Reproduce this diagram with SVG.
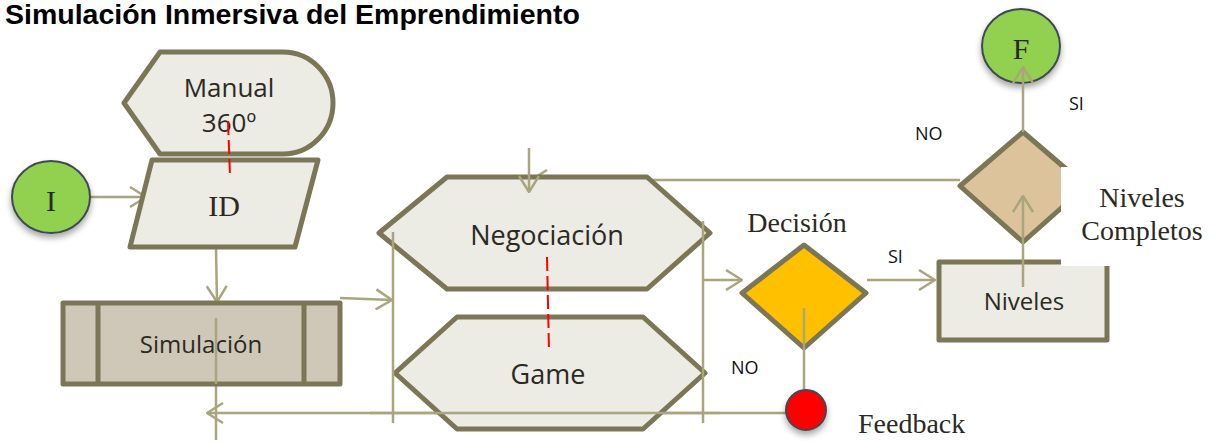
<svg xmlns="http://www.w3.org/2000/svg" width="1216" height="444" viewBox="0 0 1216 444">
<style>
.shape{stroke:#7a7656;stroke-width:5;stroke-linejoin:round}
.light{fill:#ecebe4}
.conn{fill:none;stroke:#a9a57d;stroke-width:2.5}
.sans{font-family:"Open Sans","Noto Sans",sans-serif;fill:#2b2a22}
.serif{font-family:"Liberation Serif","Times New Roman",serif;fill:#2b2a22}
.lbl{font-family:"Open Sans","Noto Sans",sans-serif;font-size:18px;fill:#111}
.red{fill:none;stroke:#ff0000;stroke-width:2;stroke-dasharray:14 5}
.mask{fill:#fff}
</style>
<defs>
<marker id="arr" viewBox="0 0 18 22" refX="17" refY="11" markerWidth="18" markerHeight="22" markerUnits="userSpaceOnUse" orient="auto">
<path d="M1,1 L17,11 L1,21" fill="none" stroke="#a9a57d" stroke-width="2.5"/>
</marker>
<filter id="sh" x="-30%" y="-30%" width="160%" height="170%">
<feDropShadow dx="0" dy="4" stdDeviation="3" flood-color="#000" flood-opacity="0.35"/>
</filter>
</defs>
<rect width="1216" height="444" fill="#fff"/>
<text x="5" y="24" font-family="Liberation Sans,Arial,sans-serif" font-weight="bold" font-size="28.5" fill="#000">Simulación Inmersiva del Emprendimiento</text>

<g id="connectors">
<line class="conn" x1="90" y1="197" x2="146" y2="197" marker-end="url(#arr)"/>
<line class="conn" x1="216" y1="248" x2="217" y2="302" marker-end="url(#arr)"/>
<line class="conn" x1="340" y1="298" x2="392" y2="300" marker-end="url(#arr)"/>
<line class="conn" x1="703" y1="280" x2="742" y2="280" marker-end="url(#arr)"/>
<line class="conn" x1="867" y1="280" x2="935" y2="280" marker-end="url(#arr)"/>
<line class="conn" x1="786" y1="413" x2="207" y2="413" marker-end="url(#arr)"/>
<line class="conn" x1="216" y1="440" x2="216" y2="318" marker-end="url(#arr)"/>
<line class="conn" x1="960" y1="180" x2="531" y2="180" marker-end="url(#arr)"/>
</g>

<g id="manual">
<path class="shape light" d="M124,103 L160,52 L283,52 A50,51 0 0 1 283,154 L160,154 Z"/>
<text class="sans" x="229" y="97" font-size="26" text-anchor="middle">Manual</text>
<text class="sans" x="229" y="132" font-size="26" text-anchor="middle">360º</text>
</g>

<g id="inicio">
<ellipse cx="51" cy="197" rx="39" ry="36" fill="#92d050" stroke="#3f4a52" stroke-width="2" filter="url(#sh)"/>
<text class="serif" x="51" y="211" font-size="30" text-anchor="middle">I</text>
</g>

<g id="id">
<path class="shape light" d="M152,160 L318,160 L295,247 L130,247 Z"/>
<text class="serif" x="224" y="216" font-size="30" text-anchor="middle">ID</text>
</g>

<line class="red" x1="228" y1="121" x2="230" y2="176"/>

<g id="simulacion">
<rect class="shape" x="63" y="303" width="277" height="81" fill="#cfc7b8"/>
<line class="shape" x1="98" y1="303" x2="98" y2="384"/>
<line class="shape" x1="304" y1="303" x2="304" y2="384"/>
<text class="sans" x="201" y="353" font-size="24" text-anchor="middle">Simulación</text>
</g>
<line class="conn" x1="216" y1="384" x2="216" y2="318"/>

<g id="negociacion">
<path class="shape light" d="M379,233 L447,177 L647,177 L710,233 L647,289 L447,289 Z"/>
<text class="sans" x="547" y="245" font-size="27" text-anchor="middle">Negociación</text>
</g>

<g id="game">
<path class="shape light" d="M395,373 L457,317 L643,317 L705,373 L643,429 L457,429 Z"/>
<text class="sans" x="548" y="384" font-size="27" text-anchor="middle">Game</text>
</g>
<g id="connectors-2">
<line class="conn" x1="393" y1="232" x2="393" y2="423"/>
<line class="conn" x1="703" y1="221" x2="703" y2="423"/>
<line class="conn" x1="370" y1="413" x2="720" y2="413"/>
<line class="conn" x1="529" y1="148" x2="529" y2="192" marker-end="url(#arr)"/>
</g>
<line class="red" x1="547" y1="257" x2="549" y2="351"/>

<g id="decision">
<path class="shape" d="M742,293 L804,245 L866,293 L804,348 Z" fill="#ffc000"/>
<text class="serif" x="797" y="232" font-size="28" text-anchor="middle">Decisión</text>
</g>
<line class="conn" x1="804" y1="308" x2="804" y2="392"/>

<g id="feedback">
<circle cx="806" cy="410" r="20" fill="#ff0000" stroke="#3f4a52" stroke-width="2" filter="url(#sh)"/>
<text class="serif" x="858" y="433" font-size="28">Feedback</text>
</g>

<g id="niveles">
<rect class="shape light" x="939" y="262" width="168" height="78"/>
<text class="sans" x="1024" y="310" font-size="24" text-anchor="middle">Niveles</text>
</g>

<g id="niveles-completos">
<path class="shape" d="M1023,132 L1086,186 L1023,242 L960,186 Z" fill="#ddc39b"/>
<rect class="mask" x="1061" y="167" width="32" height="60"/>
<rect class="mask" x="1061" y="255" width="52" height="11"/>
<text class="serif" x="1142" y="207" font-size="28" text-anchor="middle">Niveles</text>
<text class="serif" x="1142" y="240" font-size="28" text-anchor="middle">Completos</text>
</g>
<line class="conn" x1="1023" y1="287" x2="1023" y2="196" marker-end="url(#arr)"/>

<g id="fin">
<ellipse cx="1021" cy="46" rx="39" ry="37" fill="#92d050" stroke="#3f4a52" stroke-width="2" filter="url(#sh)"/>
<text class="serif" x="1021" y="59" font-size="30" text-anchor="middle">F</text>
</g>
<line class="conn" x1="1023" y1="132" x2="1023" y2="67" marker-end="url(#arr)"/>

<g id="labels">
<text class="lbl" x="731" y="374">NO</text>
<text class="lbl" x="888" y="263">SI</text>
<text class="lbl" x="1069" y="110">SI</text>
<text class="lbl" x="915" y="140">NO</text>
</g>
</svg>
